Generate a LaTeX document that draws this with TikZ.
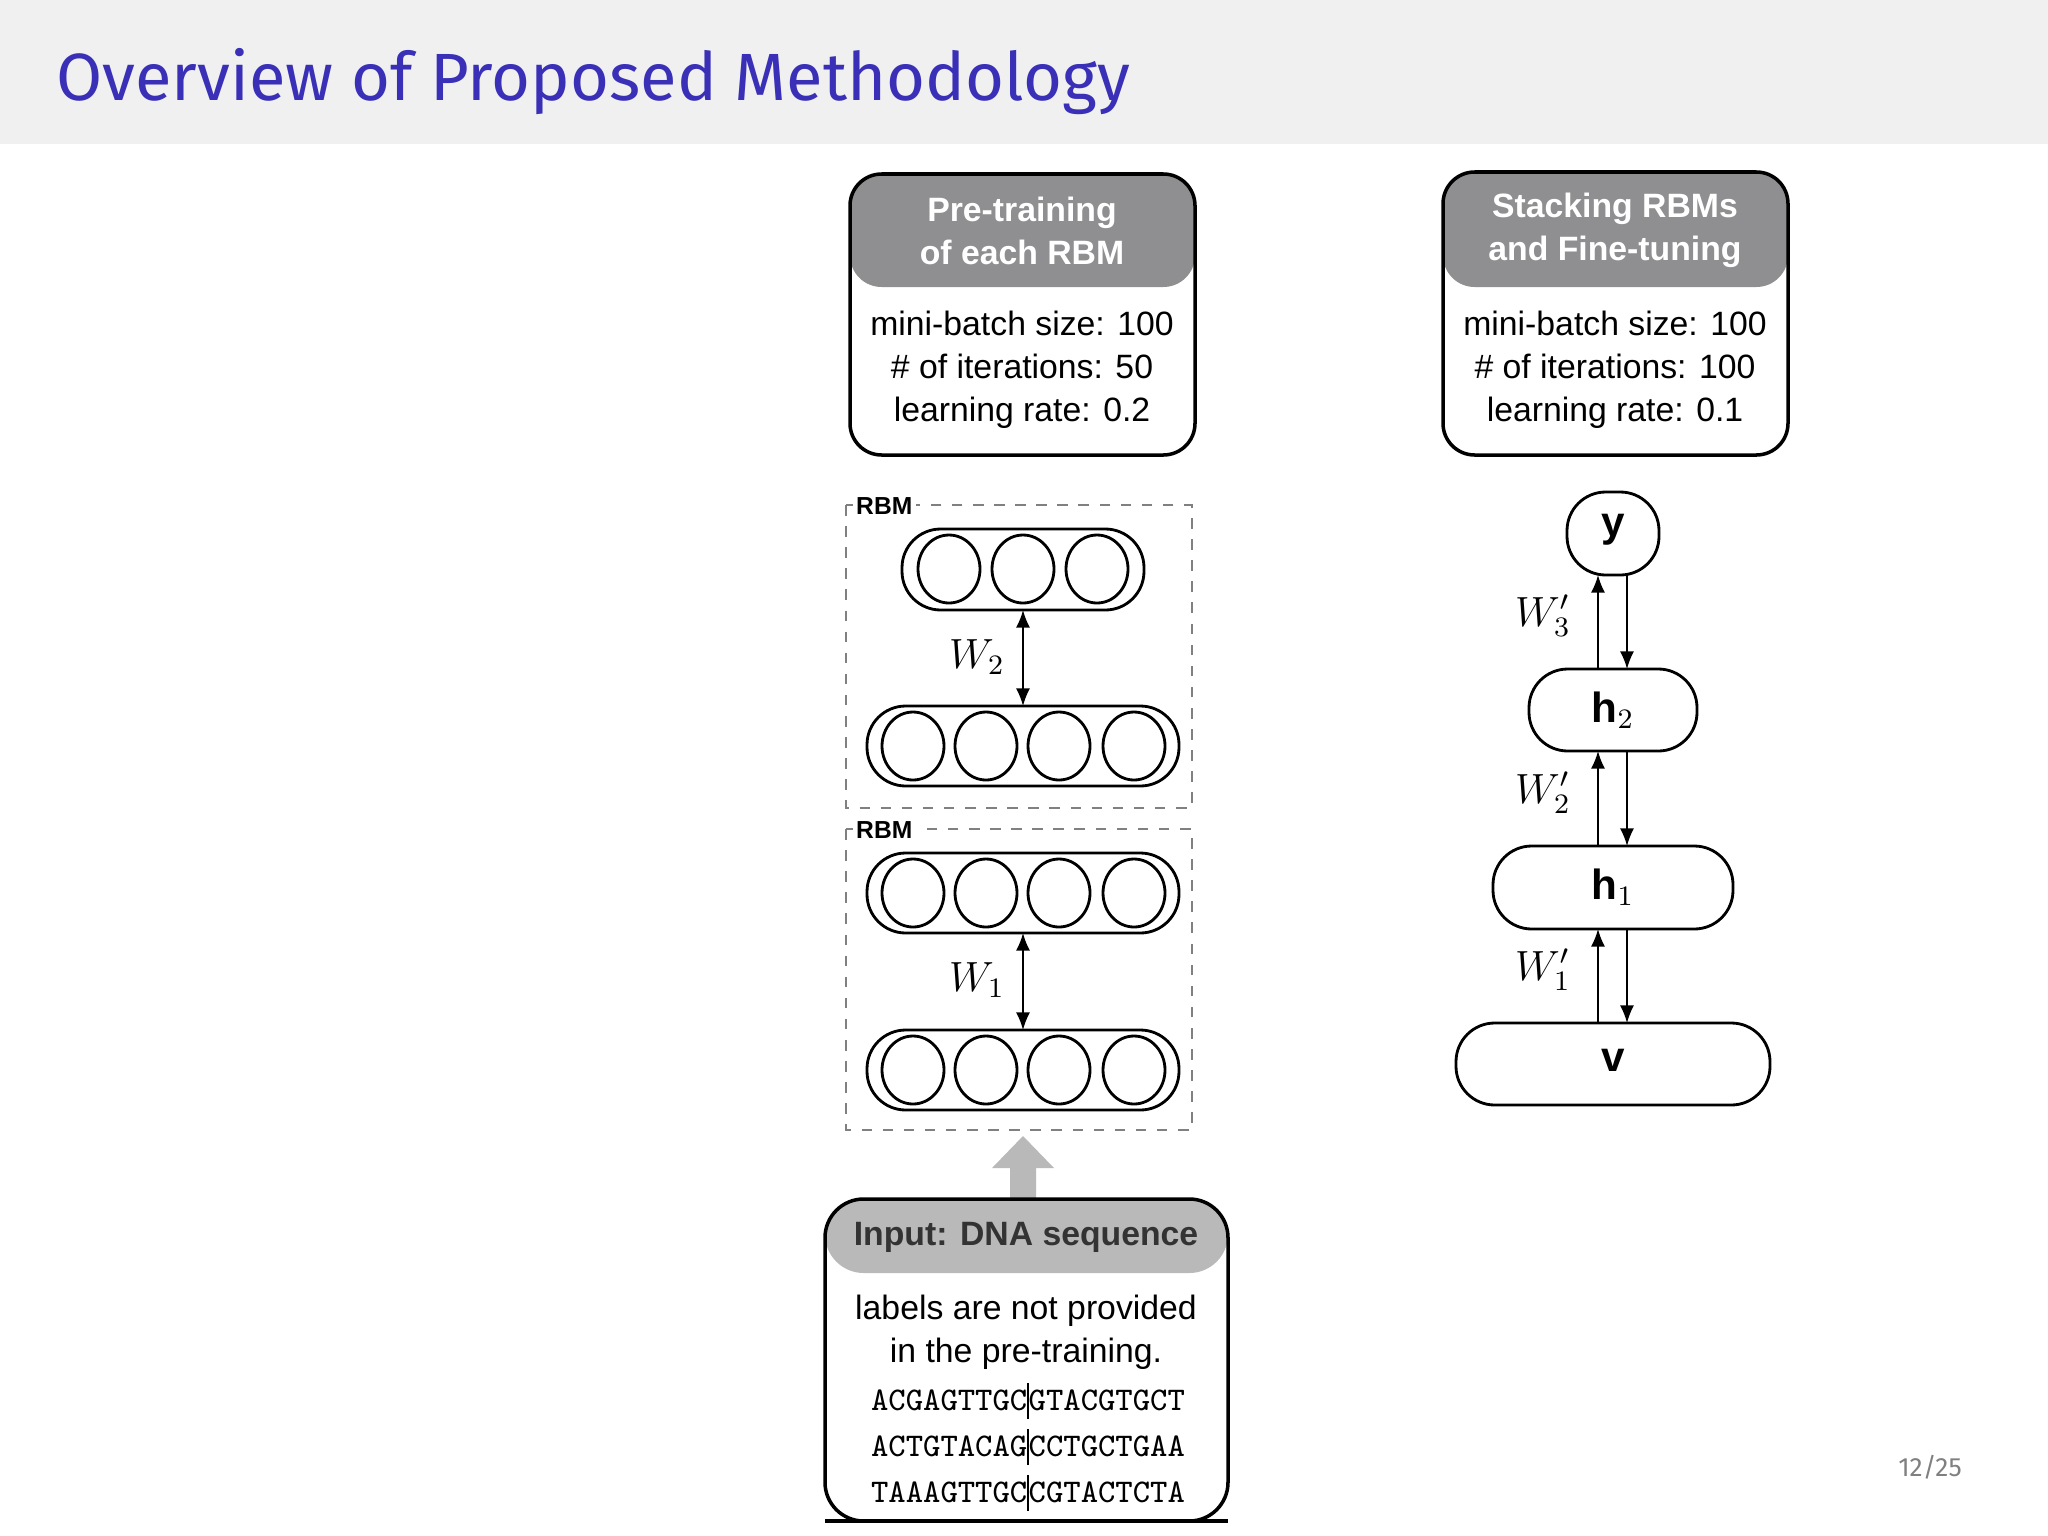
\documentclass[tikz,border=0pt]{standalone}
\usepackage{fontspec}
\setmainfont{Liberation Sans}
\newfontfamily\titlefont{Fira Sans}
\usetikzlibrary{arrows.meta}
\definecolor{hdr}{HTML}{8F8F91}
\definecolor{band}{HTML}{F0F0F0}
\definecolor{ttl}{HTML}{3A30B8}
\begin{document}
\begin{tikzpicture}[x=0.01cm,y=-0.01cm,
  body/.style={font=\fontsize{9.6}{12.2}\selectfont,align=center},
  head/.style={font=\bfseries\fontsize{9.6}{12.2}\selectfont,align=center,text=white},
  pill/.style={draw,line width=0.8pt,rounded corners=11pt},
  dbox/.style={draw=gray,dashed,line width=0.4pt},
  rbm/.style={font=\bfseries\fontsize{7}{8}\selectfont,fill=white,inner sep=1pt,anchor=west},
  mlab/.style={font=\fontsize{12}{14}\selectfont},
  da/.style={{Latex[length=5pt,width=4pt]}-{Latex[length=5pt,width=4pt]},line width=0.5pt},
  ua/.style={-{Latex[length=5pt,width=4pt]},line width=0.5pt}]
\useasboundingbox (0,0) rectangle (2048,1536);
\fill[band] (0,0) rectangle (2048,144);
\node[anchor=base west,text=ttl,font=\titlefont\fontsize{19}{22}\selectfont] (title) at (44,100) {Overview of Proposed Methodology};
\node[text=gray,font=\titlefont\fontsize{7.5}{9}\selectfont] (pg) at (1930,1467) {12/25};
% left param box
\fill[hdr,rounded corners=9pt] (850,287) -- (850,174) -- (1195,174) -- (1195,287) -- cycle;
\draw[line width=1pt,rounded corners=9pt] (850,455) -- (850,174) -- (1195,174) -- (1195,455) -- cycle;
\node[head] (lh) at (1022,231) {Pre-training\\of each RBM};
\node[body] (lb) at (1022,370) {mini-batch size: 100\\\# of iterations: 50\\learning rate: 0.2};
% right param box
\fill[hdr,rounded corners=9pt] (1443,287) -- (1443,172) -- (1788,172) -- (1788,287) -- cycle;
\draw[line width=1pt,rounded corners=9pt] (1443,455) -- (1443,172) -- (1788,172) -- (1788,455) -- cycle;
\node[head] (rh) at (1615,230) {Stacking RBMs\\and Fine-tuning};
\node[body] (rb) at (1615,370) {mini-batch size: 100\\\# of iterations: 100\\learning rate: 0.1};
% RBM boxes
\draw[dbox] (846,505) rectangle (1192,808);
\node[rbm] (r2) at (852,506) {RBM};
\draw[dbox] (846,829) rectangle (1192,1130);
\node[rbm] (r1) at (852,830) {RBM};
% layers
\draw[pill] (902,529) rectangle (1144,610);
\foreach \x in {949,1023,1097} \draw[line width=0.8pt] (\x,569) ellipse (31 and 34);
\foreach \y in {746,893,1070}{
  \draw[pill] (867,\y-40) rectangle (1179,\y+40);
  \foreach \x in {913,986,1059,1134} \draw[line width=0.8pt] (\x,\y) ellipse (31 and 34);
}
\coordinate (t3) at (1023,610); \coordinate (t2) at (1023,706);
\coordinate (b2) at (1023,933); \coordinate (b1) at (1023,1030);
\draw[da] (t3) -- (t2);
\draw[da] (b2) -- (b1);
\node[mlab] (w2) at (977,657) {$W_2$};
\node[mlab] (w1) at (977,980) {$W_1$};
% grey arrow
\fill[gray!55] (1010,1199) -- (1010,1168) -- (992,1168) -- (1023,1136) -- (1054,1168) -- (1036,1168) -- (1036,1199) -- cycle;
% input box
\fill[gray!55,rounded corners=11pt] (825,1273) -- (825,1199) -- (1228,1199) -- (1228,1273) -- cycle;
\draw[line width=1pt,rounded corners=11pt] (825,1521) -- (825,1199) -- (1228,1199) -- (1228,1521) -- cycle;
\draw[line width=1pt] (825,1521) -- (1228,1521);
\node[font=\bfseries\fontsize{9.6}{12}\selectfont,text=black!80] (ih) at (1026,1237) {Input: DNA sequence};
\node[body] (ib) at (1026,1332) {labels are not provided\\in the pre-training.};
\node[font=\ttfamily\fontsize{9.4}{13}\selectfont] (s1) at (1028,1401) {ACGAGTTGC\rule[-0.25em]{0.4pt}{1.1em}GTACGTGCT};
\node[font=\ttfamily\fontsize{9.4}{13}\selectfont] (s2) at (1028,1447) {ACTGTACAG\rule[-0.25em]{0.4pt}{1.1em}CCTGCTGAA};
\node[font=\ttfamily\fontsize{9.4}{13}\selectfont] (s3) at (1028,1493) {TAAAGTTGC\rule[-0.25em]{0.4pt}{1.1em}CGTACTCTA};
% right stack
\draw[pill] (1567,492) rectangle (1659,575);
\node[font=\fontsize{12}{14}\selectfont] (y) at (1613,530) {$\mathbf{y}$};
\draw[pill] (1529,669) rectangle (1697,751);
\node[font=\fontsize{12}{14}\selectfont] (h2) at (1613,710) {$\mathbf{h}_2$};
\draw[pill] (1493,846) rectangle (1733,929);
\node[font=\fontsize{12}{14}\selectfont] (h1) at (1613,887) {$\mathbf{h}_1$};
\draw[pill] (1456,1023) rectangle (1770,1105);
\node[font=\fontsize{12}{14}\selectfont] (v) at (1613,1060) {$\mathbf{v}$};
\foreach \a/\b/\l/\n in {575/669/616/3,751/846/793/2,929/1023/970/1}{
  \draw[ua] (1598,\b) -- (1598,\a);
  \draw[ua] (1627,\a) -- (1627,\b);
  \node[mlab] at (1543,\l) {$W'_{\n}$};
}
\end{tikzpicture}
\end{document}
